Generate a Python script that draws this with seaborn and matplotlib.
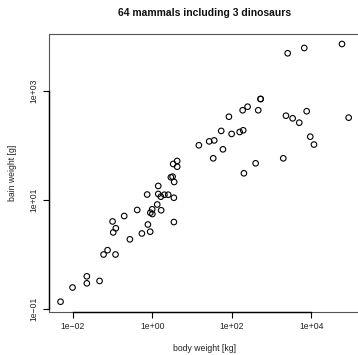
import matplotlib
matplotlib.use("Agg")
import matplotlib.pyplot as plt
import matplotlib.ticker as mticker
from matplotlib.patches import Rectangle
import seaborn as sns
import pandas as pd

# body weight [kg] and brain weight [g]
body = [2540, 6640, 58900, 532, 528, 250, 188, 463, 84.8, 2300, 3390, 4970, 7630, 86700,
        54.3, 99.2, 158, 194, 14.9, 27.1, 36.2, 60.0, 34.2, 9400, 11640, 1970, 398, 202,
        4.25, 3.37, 4.25, 2.95, 3.26, 3.57, 1.42, 1.42, 1.65, 2.03, 2.53, 3.51,
        0.420, 1.0, 0.90, 1.01, 1.34, 1.68, 0.748, 3.51, 0.780, 0.891, 0.551, 0.275,
        0.198, 0.101, 0.122, 0.105, 0.060, 0.0756, 0.120, 0.0228, 0.0228, 0.0476,
        0.00996, 0.00498]
brain = [4920, 6150, 7280, 713, 713, 515, 443, 443, 337, 352, 315, 262, 425, 324,
         185, 163, 177, 190, 101, 119, 124, 85.1, 58.2, 145, 104, 58.2, 47.1, 30.9,
         52.0, 45.8, 40.8, 26.1, 26.8, 21.4, 18.1, 12.9, 11.5, 12.5, 12.5, 11.0,
         6.56, 6.75, 5.85, 5.53, 8.27, 6.48, 12.6, 3.94, 3.55, 2.62, 2.43, 1.90,
         5.08, 4.04, 3.03, 2.54, 1.00, 1.20, 1.00, 0.398, 0.296, 0.327,
         0.248, 0.136]

x_ticks = [1e-2, 1e0, 1e2, 1e4]
x_labels = ["1e\u221202", "1e+00", "1e+02", "1e+04"]
y_ticks = [1e-1, 1e1, 1e3]
y_labels = ["1e\u221201", "1e+01", "1e+03"]

title = "64 mammals including 3 dinosaurs"
xlab = "body weight [kg]"
ylab = "bain weight [g]"

df = pd.DataFrame({"body": body, "brain": brain})

sns.set_style("white")
plt.rcParams["font.family"] = ["Liberation Sans", "DejaVu Sans"]

W, H = 358, 355
fig = plt.figure(figsize=(W / 100, H / 100), dpi=100)
left, right, top, bottom = 49.0, 360.2, 33.7, 312.0
ax = fig.add_axes([left / W, (H - bottom) / H, (right - left) / W, (bottom - top) / H])

sns.scatterplot(data=df, x="body", y="brain", ax=ax, marker="o", s=16,
                facecolors="none", edgecolors="black", linewidth=0.8, legend=False)

ax.set_xscale("log")
ax.set_yscale("log")
ax.set_xlim(10 ** -2.593, 10 ** 5.228)
ax.set_ylim(10 ** -1.055, 10 ** 4.051)

ax.xaxis.set_major_locator(mticker.FixedLocator(x_ticks))
ax.xaxis.set_major_formatter(mticker.FixedFormatter(x_labels))
ax.yaxis.set_major_locator(mticker.FixedLocator(y_ticks))
ax.yaxis.set_major_formatter(mticker.FixedFormatter(y_labels))
ax.xaxis.set_minor_locator(mticker.NullLocator())
ax.yaxis.set_minor_locator(mticker.NullLocator())

ax.tick_params(axis="both", which="major", direction="out", length=4, width=0.8,
               color="black", labelsize=6.25, labelcolor="#222222", pad=3.5,
               bottom=True, left=True)
for lab in ax.get_yticklabels():
    lab.set_rotation(90)
    lab.set_va("center")

for s in ["top", "right"]:
    ax.spines[s].set_visible(False)
ax.spines["bottom"].set_bounds(x_ticks[0], x_ticks[-1])
ax.spines["left"].set_bounds(y_ticks[0], y_ticks[-1])
for s in ["bottom", "left"]:
    ax.spines[s].set_color("black")
    ax.spines[s].set_linewidth(1.0)
ax.add_patch(Rectangle((0, 0), 1, 1, transform=ax.transAxes, fill=False,
                       ec="#555555", lw=0.8, clip_on=False))

ax.set_xlabel(xlab, fontsize=6.25, color="#222222", labelpad=9)
ax.set_ylabel(ylab, fontsize=6.25, color="#222222", labelpad=9)
fig.text(204.5 / W, 1 - 13 / H, title, fontsize=7.5, fontweight="bold",
         ha="center", va="center", color="#111111")

fig.savefig("out.png", dpi=100, facecolor="white")
